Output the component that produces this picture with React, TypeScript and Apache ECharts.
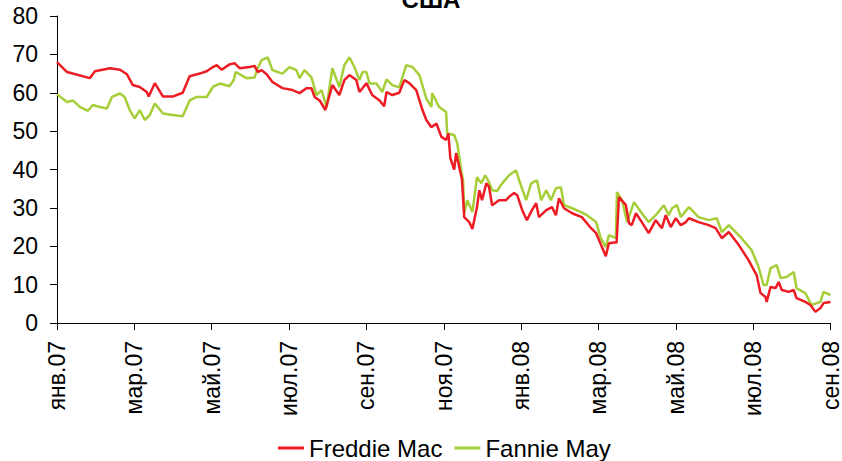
import React, { useEffect, useRef } from "react";
import * as echarts from "echarts";

const titleText = "США";
const xTickLabels = ["янв.07", "мар.07", "май.07", "июл.07", "сен.07", "ноя.07", "янв.08", "мар.08", "май.08", "июл.08", "сен.08"];
const seriesNames = ["Freddie Mac", "Fannie May"];

// time in months since 1 Jan 2007
const freddieT = [0, 0.26, 0.85, 0.98, 1.37, 1.63, 1.81, 1.96, 2.14, 2.32, 2.37, 2.53, 2.74, 2.99, 3.25, 3.43, 3.69, 3.87, 4.03, 4.13, 4.26, 4.46, 4.59, 4.72, 4.98, 5.11, 5.19, 5.29, 5.42, 5.57, 5.83, 6.09, 6.27, 6.45, 6.58, 6.66, 6.79, 6.94, 7.12, 7.3, 7.43, 7.56, 7.74, 7.82, 8.0, 8.15, 8.34, 8.46, 8.52, 8.67, 8.85, 8.98, 9.11, 9.29, 9.45, 9.55, 9.68, 9.81, 9.94, 10.06, 10.12, 10.17, 10.27, 10.32, 10.47, 10.53, 10.66, 10.74, 10.86, 10.92, 10.99, 11.1, 11.17, 11.25, 11.43, 11.61, 11.69, 11.82, 11.9, 12.03, 12.15, 12.28, 12.39, 12.46, 12.65, 12.8, 12.9, 12.98, 13.11, 13.32, 13.57, 13.81, 13.94, 14.09, 14.19, 14.27, 14.4, 14.47, 14.53, 14.71, 14.79, 14.86, 14.97, 15.12, 15.3, 15.48, 15.64, 15.74, 15.87, 16.0, 16.13, 16.26, 16.34, 16.59, 16.85, 17.03, 17.19, 17.37, 17.63, 17.88, 18.09, 18.19, 18.32, 18.35, 18.45, 18.58, 18.66, 18.74, 18.92, 19.05, 19.12, 19.35, 19.48, 19.61, 19.74, 19.82, 20.0];
const freddieV = [68, 65.4, 63.8, 65.6, 66.4, 66, 64.8, 62, 61.5, 60.2, 59, 62.5, 59, 59, 60, 64.3, 65, 65.6, 66.7, 67.2, 66, 67.4, 67.7, 66.4, 66.7, 67, 65.4, 65.9, 64.8, 62.8, 61.2, 60.7, 59.9, 61.2, 61.2, 58.9, 58, 55.5, 62, 59.4, 63.3, 64.6, 63.3, 60.2, 62.5, 59.4, 58, 56.5, 60.2, 59.4, 60, 63.3, 62.5, 60.7, 55.5, 52.9, 51, 52, 48.5, 47.7, 49.4, 43, 40, 44.3, 37.5, 27.6, 26.3, 24.5, 30.2, 34.6, 32, 36.4, 35.5, 30.7, 32, 32, 32.9, 33.9, 33.3, 29.4, 26.8, 29.4, 31.2, 27.6, 29.4, 30.2, 28.1, 32.5, 29.9, 28.6, 27.6, 24.7, 23.4, 19.8, 17.4, 20.8, 21, 21, 32.8, 30.7, 26, 25.5, 28.6, 26.3, 23.4, 26.8, 24.7, 28.1, 25, 27.3, 25.5, 26.3, 27.3, 26.3, 25.5, 24.7, 22.1, 23.7, 20.3, 16.4, 12.5, 7.8, 6.8, 5.5, 9.4, 9.1, 10.7, 8.6, 8.1, 8.6, 6.5, 5.5, 4.7, 2.9, 3.9, 5.2, 5.5];

const fannieT = [0, 0.26, 0.41, 0.59, 0.8, 0.93, 1.11, 1.29, 1.42, 1.63, 1.75, 1.88, 2.01, 2.14, 2.27, 2.4, 2.53, 2.74, 2.99, 3.25, 3.43, 3.61, 3.87, 4.03, 4.21, 4.46, 4.57, 4.62, 4.9, 5.11, 5.19, 5.29, 5.45, 5.57, 5.83, 6.01, 6.19, 6.27, 6.4, 6.58, 6.71, 6.84, 6.97, 7.12, 7.3, 7.43, 7.56, 7.69, 7.82, 7.9, 8.0, 8.08, 8.26, 8.41, 8.52, 8.67, 8.85, 8.93, 9.03, 9.19, 9.37, 9.55, 9.68, 9.7, 9.88, 10.06, 10.09, 10.27, 10.35, 10.45, 10.5, 10.53, 10.61, 10.74, 10.86, 10.97, 11.07, 11.17, 11.25, 11.38, 11.51, 11.69, 11.87, 11.95, 12.13, 12.26, 12.41, 12.52, 12.65, 12.77, 12.9, 13.03, 13.11, 13.32, 13.55, 13.7, 13.94, 14.06, 14.19, 14.27, 14.45, 14.48, 14.61, 14.74, 14.92, 15.12, 15.3, 15.48, 15.69, 15.82, 15.9, 16.03, 16.13, 16.34, 16.59, 16.85, 17.06, 17.19, 17.37, 17.7, 17.96, 18.14, 18.27, 18.35, 18.45, 18.61, 18.71, 18.86, 19.05, 19.12, 19.35, 19.51, 19.74, 19.82, 20.0];
const fannieV = [59.6, 57.6, 58, 56.3, 55.3, 56.8, 56.3, 55.9, 58.9, 59.8, 58.9, 55.5, 53.3, 55.5, 52.9, 54.2, 57.2, 54.6, 54.2, 53.9, 58, 58.9, 58.9, 61.5, 62.4, 61.7, 63.3, 65.4, 63.8, 64, 66.4, 68.5, 69.2, 65.9, 65, 66.7, 65.9, 63.8, 65.9, 64, 59.4, 60.7, 56.3, 66.4, 61.5, 67.2, 69.2, 66.7, 63.3, 65.4, 65.4, 62.4, 62.4, 60.2, 63.5, 62, 61.4, 64, 67.2, 66.7, 64.6, 58.5, 56.3, 59.9, 56.3, 55, 49.4, 49, 46.8, 39.8, 37.2, 28.6, 32, 28.9, 38, 36.4, 38.5, 36.7, 34.6, 34.4, 36.4, 38.5, 39.8, 37.2, 32, 36.4, 37.2, 32, 34.6, 32, 35.1, 35.4, 30.7, 29.9, 28.9, 28.1, 26.3, 22.1, 19.8, 22.9, 22.1, 34.1, 32, 26.3, 31.5, 28.6, 26.3, 28.1, 30.7, 28.1, 29.9, 30.7, 27.6, 30.2, 27.6, 26.8, 27.3, 23.7, 25.5, 22.1, 19, 14.6, 9.9, 9.9, 14.3, 15.1, 11.7, 12, 13.3, 9.1, 7.8, 4.7, 5.5, 8.1, 7.3];

const zip = (t: number[], v: number[]) => t.map((x, i) => [x, v[i]]);

export default function App() {
  const ref = useRef<HTMLDivElement>(null);
  useEffect(() => {
    document.body.style.margin = "0";
    const chart = echarts.init(ref.current!, null, { renderer: "svg" });
    const font = "'Liberation Sans', Arial, sans-serif";
    chart.setOption({
      animation: false,
      backgroundColor: "#ffffff",
      textStyle: { fontFamily: font },
      graphic: [
        {
          type: "text",
          x: 431,
          y: 11,
          style: {
            text: titleText,
            fontSize: 24,
            fontWeight: "bold",
            fontFamily: font,
            fill: "#000",
            align: "center",
            verticalAlign: "bottom",
          },
        },
      ],
      grid: { left: 57, right: 10, top: 16, bottom: 138, containLabel: false },
      legend: {
        top: 435,
        left: 278,
        padding: 0,
        itemWidth: 26,
        itemHeight: 3,
        itemGap: 12,
        icon: "rect",
        textStyle: { fontSize: 24, lineHeight: 26, color: "#000", fontFamily: font },
        data: seriesNames,
      },
      xAxis: {
        type: "value",
        min: 0,
        max: 20,
        interval: 2,
        axisLine: { show: true, onZero: false, lineStyle: { color: "#000", width: 1 } },
        axisTick: { show: true, inside: false, length: 7, lineStyle: { color: "#000" } },
        splitLine: { show: false },
        axisLabel: {
          rotate: 90,
          margin: 18,
          fontSize: 23,
          color: "#000",
          fontFamily: font,
          formatter: (v: number) => xTickLabels[Math.round(v / 2)] ?? "",
        },
      },
      yAxis: {
        type: "value",
        min: 0,
        max: 80,
        interval: 10,
        axisLine: { show: true, lineStyle: { color: "#000", width: 1 } },
        axisTick: { show: true, inside: false, length: 7, lineStyle: { color: "#000" } },
        splitLine: { show: false },
        axisLabel: { margin: 19, fontSize: 23, color: "#000", fontFamily: font },
      },
      series: [
        {
          name: seriesNames[0],
          type: "line",
          data: zip(freddieT, freddieV),
          showSymbol: false,
          symbol: "none",
          lineStyle: { color: "#ED1C24", width: 2.5 },
          itemStyle: { color: "#ED1C24" },
          z: 3,
        },
        {
          name: seriesNames[1],
          type: "line",
          data: zip(fannieT, fannieV),
          showSymbol: false,
          symbol: "none",
          lineStyle: { color: "#A6CE39", width: 2.5 },
          itemStyle: { color: "#A6CE39" },
          z: 2,
        },
      ],
    });
    return () => chart.dispose();
  }, []);
  return <div ref={ref} style={{ width: 842, height: 461 }} />;
}
